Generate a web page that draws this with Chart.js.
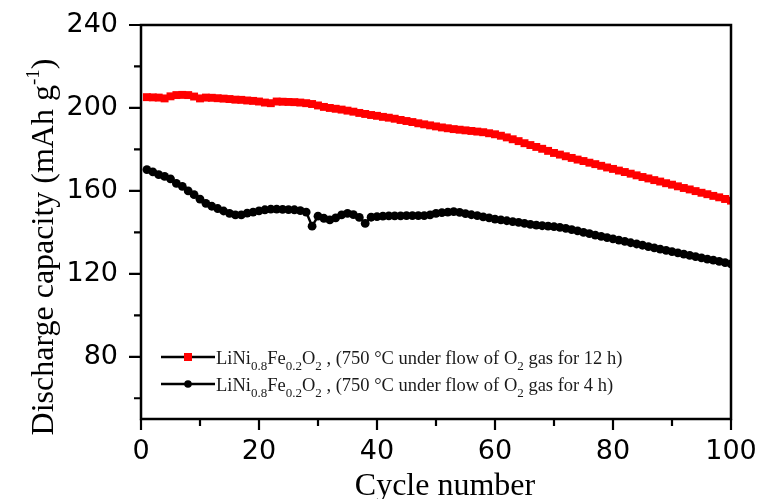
<!DOCTYPE html>
<html>
<head>
<meta charset="utf-8">
<script src="https://cdn.jsdelivr.net/npm/chart.js@4.4.1/dist/chart.umd.min.js"></script>
<style>
  html, body { margin: 0; padding: 0; background: #fff; }
  canvas { display: block; }
</style>
</head>
<body>
<canvas id="c" width="761" height="499"></canvas>
<script>
// ---- data ----
const cycles = [1,2,3,4,5,6,7,8,9,10,11,12,13,14,15,16,17,18,19,20,
  21,22,23,24,25,26,27,28,29,30,31,32,33,34,35,36,37,38,39,40,
  41,42,43,44,45,46,47,48,49,50,51,52,53,54,55,56,57,58,59,60,
  61,62,63,64,65,66,67,68,69,70,71,72,73,74,75,76,77,78,79,80,
  81,82,83,84,85,86,87,88,89,90,91,92,93,94,95,96,97,98,99,100];

const capacity12h = [205.2,205.1,205.0,204.6,205.6,206.2,206.3,206.2,205.5,204.6,
  205.0,204.9,204.7,204.5,204.3,204.0,203.9,203.6,203.4,203.1,
  202.6,202.3,203.1,203.0,202.9,202.8,202.6,202.3,201.9,201.2,
  200.5,200.0,199.6,199.2,198.7,198.2,197.6,197.1,196.6,196.2,
  195.7,195.3,194.8,194.2,193.7,193.2,192.6,192.1,191.6,191.1,
  190.6,190.2,189.8,189.5,189.2,188.9,188.6,188.3,187.8,187.3,
  186.6,185.8,184.9,184.0,183.0,182.1,181.2,180.3,179.3,178.3,
  177.5,176.7,175.9,175.1,174.4,173.6,172.9,172.1,171.3,170.6,
  169.8,169.1,168.3,167.5,166.7,166.0,165.2,164.5,163.7,163.0,
  162.2,161.4,160.7,159.9,159.1,158.4,157.6,156.9,156.1,155.3];

const capacity4h = [170.3,169.2,167.8,167.0,165.8,163.6,162.2,160.0,158.2,156.0,
  154.0,152.6,151.5,150.3,149.2,148.4,148.4,149.3,149.8,150.4,
  150.9,151.2,151.2,151.1,151.0,150.9,150.5,149.8,143.0,147.8,
  146.8,146.0,147.0,148.4,149.2,148.6,147.2,144.3,147.3,147.6,
  147.8,148.0,148.0,148.0,148.1,148.1,148.1,148.1,148.4,149.2,
  149.5,149.8,150.0,149.6,149.0,148.5,148.1,147.5,147.0,146.4,
  146.0,145.6,145.2,144.8,144.3,143.9,143.5,143.2,143.0,142.8,
  142.4,141.9,141.3,140.7,140.0,139.4,138.7,138.1,137.5,136.9,
  136.3,135.7,135.0,134.4,133.8,133.1,132.5,131.9,131.3,130.7,
  130.1,129.5,128.9,128.3,127.7,127.1,126.6,126.0,125.4,124.8];

const xTicks = [0,10,20,30,40,50,60,70,80,90,100];
const xTickLabels = ['0','','20','','40','','60','','80','','100'];
const yTicks = [60,80,100,120,140,160,180,200,220,240];
const yTickLabels = ['','80','','120','','160','','200','','240'];

const xTitle = 'Cycle number';
const yTitleParts = [{t:'Discharge capacity (mAh g'},{t:'-1',sup:true},{t:')'}];
const legend12h = [{t:'LiNi'},{t:'0.8',sub:true},{t:'Fe'},{t:'0.2',sub:true},{t:'O'},{t:'2',sub:true},
  {t:' , (750 \u00B0C under flow of O'},{t:'2',sub:true},{t:' gas for 12 h)'}];
const legend4h = [{t:'LiNi'},{t:'0.8',sub:true},{t:'Fe'},{t:'0.2',sub:true},{t:'O'},{t:'2',sub:true},
  {t:' , (750 \u00B0C under flow of O'},{t:'2',sub:true},{t:' gas for 4 h)'}];

// ---- helpers ----
const SERIF = '"Liberation Serif", "Times New Roman", serif';

function richWidth(ctx, parts, size, small) {
  let w = 0;
  parts.forEach(p => {
    ctx.font = ((p.sub || p.sup) ? small : size) + 'px ' + SERIF;
    w += ctx.measureText(p.t).width;
  });
  return w;
}
function drawRich(ctx, parts, x, y, size, small, subDy, supDy) {
  ctx.textAlign = 'left';
  ctx.textBaseline = 'alphabetic';
  parts.forEach(p => {
    ctx.font = ((p.sub || p.sup) ? small : size) + 'px ' + SERIF;
    const dy = p.sub ? subDy : (p.sup ? -supDy : 0);
    ctx.fillText(p.t, x, y + dy);
    x += ctx.measureText(p.t).width;
  });
}

const decorPlugin = {
  id: 'decor',
  afterDraw(chart) {
    const {ctx, chartArea: a, scales: {x, y}} = chart;
    ctx.save();
    // frame
    ctx.strokeStyle = '#000';
    ctx.lineWidth = 2.5;
    ctx.strokeRect(a.left, a.top, a.right - a.left, a.bottom - a.top);
    // ticks
    ctx.lineWidth = 2.2;
    ctx.beginPath();
    xTicks.forEach((v, i) => {
      const px = x.getPixelForValue(v);
      const len = xTickLabels[i] ? 11 : 7;
      ctx.moveTo(px, a.bottom);
      ctx.lineTo(px, a.bottom + len);
    });
    yTicks.forEach((v, i) => {
      const py = y.getPixelForValue(v);
      const len = yTickLabels[i] ? 12 : 7;
      ctx.moveTo(a.left, py);
      ctx.lineTo(a.left - len, py);
    });
    ctx.stroke();

    // x title
    ctx.fillStyle = '#000';
    ctx.font = '32px ' + SERIF;
    ctx.textAlign = 'center';
    ctx.textBaseline = 'alphabetic';
    ctx.fillText(xTitle, 445, 495);

    // y title (rotated)
    ctx.save();
    const tw = richWidth(ctx, yTitleParts, 32, 19);
    ctx.translate(53, 247 + tw / 2);
    ctx.rotate(-Math.PI / 2);
    drawRich(ctx, yTitleParts, 0, 0, 32, 19, 0, 14);
    ctx.restore();

    // legend
    const rows = [
      {parts: legend12h, color: '#ff0000', style: 'rect', y: 357},
      {parts: legend4h, color: '#000000', style: 'circle', y: 384}
    ];
    rows.forEach(r => {
      ctx.strokeStyle = '#000';
      ctx.lineWidth = 2.5;
      ctx.beginPath();
      ctx.moveTo(161, r.y);
      ctx.lineTo(215, r.y);
      ctx.stroke();
      ctx.fillStyle = r.color;
      if (r.style === 'rect') {
        ctx.fillRect(184, r.y - 4, 8, 8);
      } else {
        ctx.beginPath();
        ctx.arc(188, r.y, 3.8, 0, Math.PI * 2);
        ctx.fill();
      }
      ctx.fillStyle = '#1a1a1a';
      drawRich(ctx, r.parts, 216, r.y + 6.5, 18.5, 13, 6, 0);
    });
    ctx.restore();
  }
};

new Chart(document.getElementById('c'), {
  type: 'line',
  data: {
    datasets: [
      {
        label: 'LiNi0.8Fe0.2O2 (750 °C, O2, 12 h)',
        data: cycles.map((c, i) => ({x: c, y: capacity12h[i]})),
        borderColor: '#ff0000',
        backgroundColor: '#ff0000',
        borderWidth: 2.5,
        pointStyle: 'rect',
        pointRadius: 5.6,
        pointBorderWidth: 0,
        tension: 0
      },
      {
        label: 'LiNi0.8Fe0.2O2 (750 °C, O2, 4 h)',
        data: cycles.map((c, i) => ({x: c, y: capacity4h[i]})),
        borderColor: '#000000',
        backgroundColor: '#000000',
        borderWidth: 2.5,
        pointStyle: 'circle',
        pointRadius: 4.4,
        pointBorderWidth: 0,
        tension: 0
      }
    ]
  },
  options: {
    responsive: false,
    animation: false,
    devicePixelRatio: 1,
    layout: {autoPadding: false, padding: {left: 0, right: 30, top: 25, bottom: 0}},
    plugins: {legend: {display: false}, tooltip: {enabled: false}},
    scales: {
      x: {
        type: 'linear', min: 0, max: 100,
        afterBuildTicks: s => { s.ticks = xTicks.map(v => ({value: v})); },
        afterFit: s => { s.height = 80; s.paddingLeft = 0; s.paddingRight = 0; },
        grid: {display: false, drawTicks: false},
        border: {display: false},
        ticks: {
          autoSkip: false, maxRotation: 0, padding: 17, color: '#000',
          font: {family: '"DejaVu Sans", Arial, sans-serif', size: 27},
          callback: (v, i) => xTickLabels[i]
        }
      },
      y: {
        type: 'linear', min: 50, max: 240,
        afterBuildTicks: s => { s.ticks = yTicks.map(v => ({value: v})); },
        afterFit: s => { s.width = 141; s.paddingTop = 0; s.paddingBottom = 0; },
        grid: {display: false, drawTicks: false},
        border: {display: false},
        ticks: {
          autoSkip: false, padding: 23, color: '#000',
          font: {family: '"DejaVu Sans", Arial, sans-serif', size: 27},
          callback: (v, i) => yTickLabels[i]
        }
      }
    }
  },
  plugins: [decorPlugin]
});
</script>
</body>
</html>
